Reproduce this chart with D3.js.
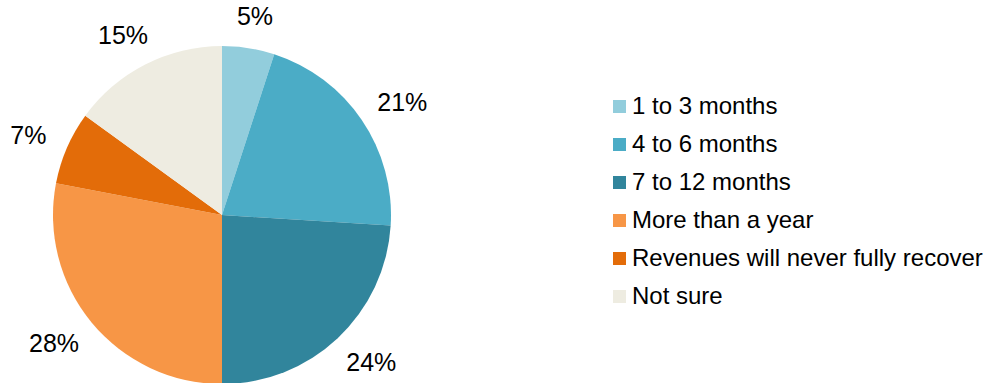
<!DOCTYPE html>
<html><head><meta charset="utf-8">
<script src="https://cdn.jsdelivr.net/npm/d3@7"></script>
<style>body{margin:0;background:#fff}svg{display:block}text{font-family:"Liberation Sans",Arial,sans-serif;fill:#000}</style>
</head><body>
<svg id="c" width="989" height="383"></svg>
<script>
const categories = ["1 to 3 months","4 to 6 months","7 to 12 months","More than a year","Revenues will never fully recover","Not sure"];
const values = [5,21,24,28,7,15];
const colors = ["#92CDDC","#4BACC6","#31859C","#F79646","#E36C09","#EEECE1"];

const svg = d3.select("#c");
const cx = 222, cy = 215, R = 169;
const data = categories.map((c,i)=>({cat:c,val:values[i],color:colors[i]}));
const pie = d3.pie().sort(null).value(d=>d.val);
const arcs = pie(data);
const arc = d3.arc().innerRadius(0).outerRadius(R);
const LR = 193;
const g = svg.append("g").attr("transform",`translate(${cx},${cy})`);
g.selectAll("path").data(arcs).join("path").attr("d",arc).attr("fill",d=>d.data.color);
g.selectAll("text").data(arcs).join("text")
  .attr("text-anchor","middle").attr("dy","0.35em")
  .style("font-size","25px")
  .text(d=>d.data.val+"%")
  .attr("transform",function(d){
    const a=(d.startAngle+d.endAngle)/2, s=Math.sin(a), c=Math.cos(a);
    const b=this.getBBox();
    return `translate(${s*LR + s*b.width/2},${-c*LR - c*b.height*0.3})`;
  });

const lg = svg.append("g").attr("transform","translate(613,0)");
const y = d3.scalePoint().domain(categories).range([106,296]);
const items = lg.selectAll("g").data(data).join("g").attr("transform",d=>`translate(0,${y(d.cat)})`);
items.append("rect").attr("x",0).attr("y",-6).attr("width",13).attr("height",13).attr("fill",d=>d.color);
items.append("text").attr("x",19).attr("dy","0.35em").style("font-size","24px").text(d=>d.cat);
</script>
</body></html>
